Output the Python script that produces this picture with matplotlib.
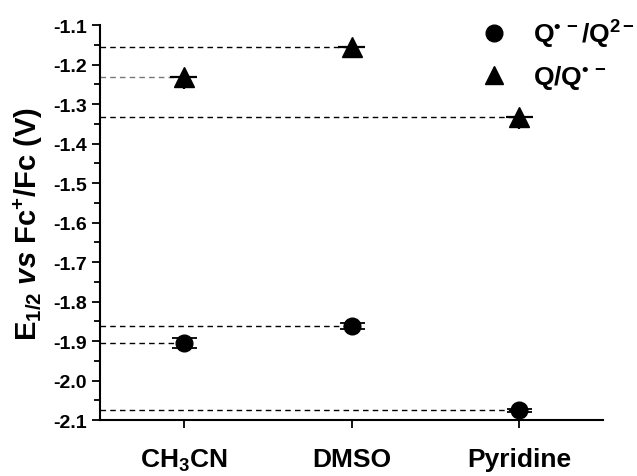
import matplotlib
matplotlib.use("Agg")
import matplotlib.pyplot as plt
from matplotlib.ticker import MultipleLocator
from matplotlib.lines import Line2D

plt.rcParams['font.family'] = ['Liberation Sans', 'DejaVu Sans']
plt.rcParams['font.weight'] = 'bold'
plt.rcParams['mathtext.fontset'] = 'custom'
plt.rcParams['mathtext.default'] = 'bf'
plt.rcParams['mathtext.bf'] = 'Liberation Sans:bold'
plt.rcParams['mathtext.rm'] = 'Liberation Sans:bold'
plt.rcParams['mathtext.it'] = 'Liberation Sans:bold:italic'

# Half-wave potentials per solvent
solventes = ["CH$_3$CN", "DMSO", "Pyridine"]
posX = [1, 2, 3]
e_semiq = [-1.905, -1.862, -2.075]      # Q.-/Q2-
err_semiq = [0.012, 0.008, 0.004]
e_quin = [-1.232, -1.155, -1.332]       # Q/Q.-
err_quin = [0.03, 0.025, 0.03]
colorGuia = ["black", "black", "black"]
colorGuiaQuin = ["#777777", "black", "black"]

fig = plt.figure(figsize=(6.37, 4.77), dpi=100)
ax = fig.add_axes([0.157, 0.117, 0.79, 0.828])

x0 = 0.5
# dashed guide lines from the axis to each point
for i in range(3):
    ax.plot([x0, posX[i]], [e_semiq[i], e_semiq[i]], ls=(0, (4, 3)), lw=1, color=colorGuia[i], zorder=1)
    ax.plot([x0, posX[i]], [e_quin[i], e_quin[i]], ls=(0, (4, 3)), lw=1, color=colorGuiaQuin[i], zorder=1)

# circles with symmetric error bars
ax.errorbar(posX, e_semiq, yerr=err_semiq, fmt='o', color='black', ms=12,
            capsize=9, capthick=1.3, elinewidth=1.3, zorder=3)
# triangles: lower error + horizontal bar
ax.errorbar(posX, e_quin, yerr=[err_quin, [0, 0, 0]], xerr=0.08, fmt='^', color='black', ms=14,
            capsize=0, elinewidth=1.6, zorder=3)

ax.set_xlim(0.5, 3.5)
ax.set_ylim(-2.1, -1.1)
ax.set_xticks(posX)
ax.set_xticklabels(solventes, fontsize=19, fontweight='bold')
ax.yaxis.set_major_locator(MultipleLocator(0.1))
ax.yaxis.set_minor_locator(MultipleLocator(0.05))
ax.yaxis.set_major_formatter(plt.FuncFormatter(lambda v, p: "%.1f" % v))
ax.tick_params(axis='y', labelsize=14, width=1.3, length=6, direction='out')
ax.tick_params(axis='y', which='minor', width=1.3, length=4)
ax.tick_params(axis='x', width=1.3, length=6, direction='out', pad=13)
for lab in ax.get_yticklabels():
    lab.set_fontweight('bold')

ax.spines['top'].set_visible(False)
ax.spines['right'].set_visible(False)
ax.spines['left'].set_linewidth(1.5)
ax.spines['bottom'].set_linewidth(1.5)

ax.set_ylabel(r"E$_{1/2}$ $\mathit{vs}$ Fc$^{+}$/Fc (V)", fontsize=21, fontweight='bold', labelpad=6)

manejadores = [
    Line2D([], [], ls='none', marker='o', color='black', ms=12),
    Line2D([], [], ls='none', marker='^', color='black', ms=13),
]
etiquetas = ["Q$^{•\\,-}$/Q$^{2-}$", "Q/Q$^{•\\,-}$"]
ax.legend(manejadores, etiquetas, loc='upper right', bbox_to_anchor=(1.11, 1.08), frameon=False,
          fontsize=19, handletextpad=0.9, labelspacing=0.5, handlelength=1.2)

fig.savefig("out.png", dpi=100)
